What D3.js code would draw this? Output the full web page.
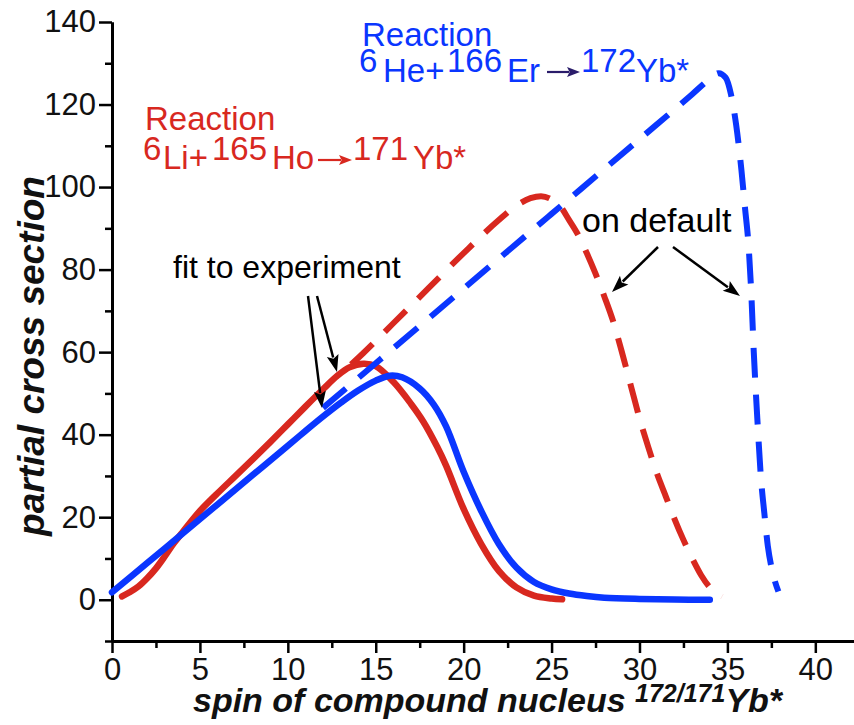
<!DOCTYPE html>
<html>
<head>
<meta charset="utf-8">
<script src="https://cdn.jsdelivr.net/npm/d3@7"></script>
<style>
  html, body { margin: 0; padding: 0; background: #fff; }
  svg { display: block; }
  text { font-family: "Liberation Sans", Arial, sans-serif; }
</style>
</head>
<body>
<svg id="chart" width="854" height="725"></svg>
<script>
// Partial cross section vs. spin of the compound nucleus
const xMajorTicks = [0, 5, 10, 15, 20, 25, 30, 35, 40];
const xMinorTicks = [2.5, 7.5, 12.5, 17.5, 22.5, 27.5, 32.5, 37.5];
const yMajorTicks = [0, 20, 40, 60, 80, 100, 120, 140];
const yMinorTicks = [-10, 10, 30, 50, 70, 90, 110, 130];

// 6Li + 165Ho -> 171Yb*, fit to experiment
const liFitSpin = [0.57, 1, 1.5, 2, 2.5, 3, 3.5, 4, 5, 6, 7, 8, 9, 10, 11, 12, 12.8, 13.5, 14.3, 15, 16, 17, 17.7, 18.5, 19, 20, 21, 22, 23, 24, 25, 25.6];
const liFitValue = [0.8, 1.8, 3.2, 5.2, 7.6, 10.5, 13.6, 16.3, 21.5, 25.8, 29.9, 34, 38.2, 42.5, 46.8, 51, 54.2, 56.3, 57.2, 56.6, 52.8, 47.5, 43.2, 37, 32.5, 22, 13.5, 7, 3, 1, 0.3, 0.1];

// 6Li + 165Ho -> 171Yb*, default parameters
const liDefSpin = [13.6, 14.3, 16, 18, 20, 22, 23, 23.8, 24.4, 25, 25.5, 26, 26.5, 27, 27.5, 28, 28.5, 29, 29.5, 30, 30.5, 31, 31.5, 32, 32.5, 33, 33.5, 34, 34.7];
const liDefValue = [57, 59.8, 67, 75.5, 84, 92, 95.5, 97.3, 97.8, 97, 95.3, 92, 88.5, 84, 79, 73.5, 67.5, 60, 52, 44, 37, 30.5, 25, 19.5, 14.5, 10, 6, 3, 0.8];

// 6He + 166Er -> 172Yb*, fit to experiment
const heFitSpin = [0, 2, 4, 6, 8, 10, 11, 12, 13, 14, 15, 15.8, 16.5, 17.5, 18.3, 19, 20, 21, 22, 23, 24, 25, 26, 27, 28, 30, 32, 34];
const heFitValue = [1.8, 8.9, 16, 23.1, 30.2, 37.3, 40.9, 44.4, 47.7, 50.7, 53.1, 54.3, 53.9, 51.2, 47.3, 42, 31, 21.5, 13.5, 7.8, 4.3, 2.5, 1.5, 0.9, 0.5, 0.2, 0.05, 0];

// 6He + 166Er -> 172Yb*, default parameters
const heDefSpin = [12, 15, 20, 25, 30, 33, 34, 34.5, 34.9, 35.2, 35.5, 35.8, 36.0, 36.2, 36.35, 36.5, 36.7, 36.9, 37.1, 37.3, 37.5, 37.7, 37.9];
const heDefValue = [46.5, 57.3, 75.4, 93.5, 111.6, 122.5, 126.2, 127.6, 126.5, 122.5, 115, 104, 95, 86, 75, 60, 44, 30, 21, 13, 8, 4.5, 2];

const RED = "#d8281f";
const BLUE = "#0a36ff";
const NAVY = "#2a1c6a";

const svg = d3.select("#chart");
const x = d3.scaleLinear().domain([0, 42.2]).range([112, 854]);
const y = d3.scaleLinear().domain([-10, 140]).range([641, 22]);

// ---- axes ----
const yAxis = svg.append("g").attr("transform", `translate(${x(0)},0)`)
  .call(d3.axisLeft(y).tickValues(yMajorTicks).tickSize(13).tickSizeOuter(0).tickPadding(3));
const yMinor = svg.append("g").attr("transform", `translate(${x(0)},0)`)
  .call(d3.axisLeft(y).tickValues(yMinorTicks).tickSize(7).tickSizeOuter(0).tickFormat(""));
const xAxis = svg.append("g").attr("transform", `translate(0,${y(-10)})`)
  .call(d3.axisBottom(x).tickValues(xMajorTicks).tickSize(12).tickSizeOuter(0).tickPadding(5));
const xMinor = svg.append("g").attr("transform", `translate(0,${y(-10)})`)
  .call(d3.axisBottom(x).tickValues(xMinorTicks).tickSize(7).tickSizeOuter(0).tickFormat(""));

[yAxis, yMinor, xAxis, xMinor].forEach(g => {
  g.select(".domain").attr("stroke", "#000").attr("stroke-width", 3);
  g.selectAll(".tick line").attr("stroke", "#000").attr("stroke-width", 2.5);
  g.selectAll(".tick text").attr("fill", "#111").attr("font-size", 31)
    .attr("font-family", "'Liberation Sans', Arial, sans-serif");
});

// axis titles
svg.append("text")
  .attr("transform", "translate(44,356) rotate(-90)")
  .attr("text-anchor", "middle")
  .attr("font-size", 37).attr("font-weight", "bold").attr("font-style", "italic")
  .attr("fill", "#111")
  .text("partial cross section");

const xt = svg.append("text")
  .attr("x", 193).attr("y", 712)
  .attr("font-size", 34).attr("font-weight", "bold").attr("font-style", "italic")
  .attr("fill", "#111");
xt.append("tspan").text("spin of compound nucleus ");
xt.append("tspan").attr("font-size", 25).attr("dy", -10).text("172/171");
xt.append("tspan").attr("dy", 10).text("Yb*");

// ---- curves ----
const smooth = d3.line().x(d => x(d[0])).y(d => y(d[1])).curve(d3.curveCatmullRom.alpha(0.5));
const mono = d3.line().x(d => x(d[0])).y(d => y(d[1])).curve(d3.curveMonotoneX);
const zip = (a, b) => a.map((v, i) => [v, b[i]]);

const series = [
  { xs: liDefSpin, ys: liDefValue, color: RED, dash: "30,17" },
  { xs: liFitSpin, ys: liFitValue, color: RED, dash: null },
  { xs: heDefSpin, ys: heDefValue, color: BLUE, dash: "30,17" },
  { xs: heFitSpin, ys: heFitValue, color: BLUE, dash: null }
];
series.forEach(s => {
  svg.append("path")
    .datum(zip(s.xs, s.ys))
    .attr("d", s.dash ? mono : smooth)
    .attr("fill", "none")
    .attr("stroke", s.color)
    .attr("stroke-width", s.dash ? 6 : 6.5)
    .attr("stroke-linecap", s.dash ? "butt" : "round")
    .attr("stroke-linejoin", "round")
    .attr("stroke-dasharray", s.dash);
});

// ---- annotation helpers ----
function arrow(x1, y1, x2, y2, color, width, headLen, headW) {
  const dx = x2 - x1, dy = y2 - y1, len = Math.hypot(dx, dy);
  const ux = dx / len, uy = dy / len;
  const bx = x2 - ux * headLen, by = y2 - uy * headLen;
  svg.append("line")
    .attr("x1", x1).attr("y1", y1)
    .attr("x2", bx + ux * 2).attr("y2", by + uy * 2)
    .attr("stroke", color).attr("stroke-width", width);
  svg.append("path")
    .attr("d", `M${x2},${y2}L${bx - uy * headW / 2},${by + ux * headW / 2}L${bx + ux * headLen * 0.2},${by + uy * headLen * 0.2}L${bx + uy * headW / 2},${by - ux * headW / 2}Z`)
    .attr("fill", color);
}

// reaction label: one text element, title line plus nuclide pieces on two baselines
function reaction(color, x0, y0, pieces, arrowSpec) {
  const t = svg.append("text").attr("font-size", 33).attr("fill", color);
  t.append("tspan").attr("x", x0).attr("y", y0).text("Reaction");
  pieces.forEach(p => {
    t.append("tspan").attr("x", p[1]).attr("y", p[2]).text(p[0]);
  });
  arrow(arrowSpec[0], arrowSpec[1], arrowSpec[2], arrowSpec[1], arrowSpec[3], 2.2, 13, 10);
}

// red reaction label
reaction(RED, 145, 130, [
  ["6", 143, 160], ["Li+", 163, 169], ["165", 212, 160], ["Ho", 272, 169],
  ["171", 353, 160], ["Yb*", 413, 169]
], [318, 160, 352, RED]);

// blue reaction label
reaction(BLUE, 362, 46, [
  ["6", 359, 72], ["He+", 383, 82], ["166", 447, 72], ["Er", 507, 82],
  ["172", 581, 72], ["Yb*", 636, 82]
], [547, 72, 580, NAVY]);

// black notes
svg.append("text").attr("x", 173).attr("y", 278)
  .attr("font-size", 32).attr("fill", "#000").text("fit to experiment");
svg.append("text").attr("x", 582).attr("y", 232)
  .attr("font-size", 34).attr("fill", "#000").text("on default");

arrow(308, 296, 322, 408, "#000", 2.5, 17, 12);
arrow(317, 296, 337, 372, "#000", 2.5, 17, 12);
arrow(658, 247, 612, 292, "#000", 2.5, 17, 12);
arrow(673, 247, 740, 296, "#000", 2.5, 17, 12);
</script>
</body>
</html>
